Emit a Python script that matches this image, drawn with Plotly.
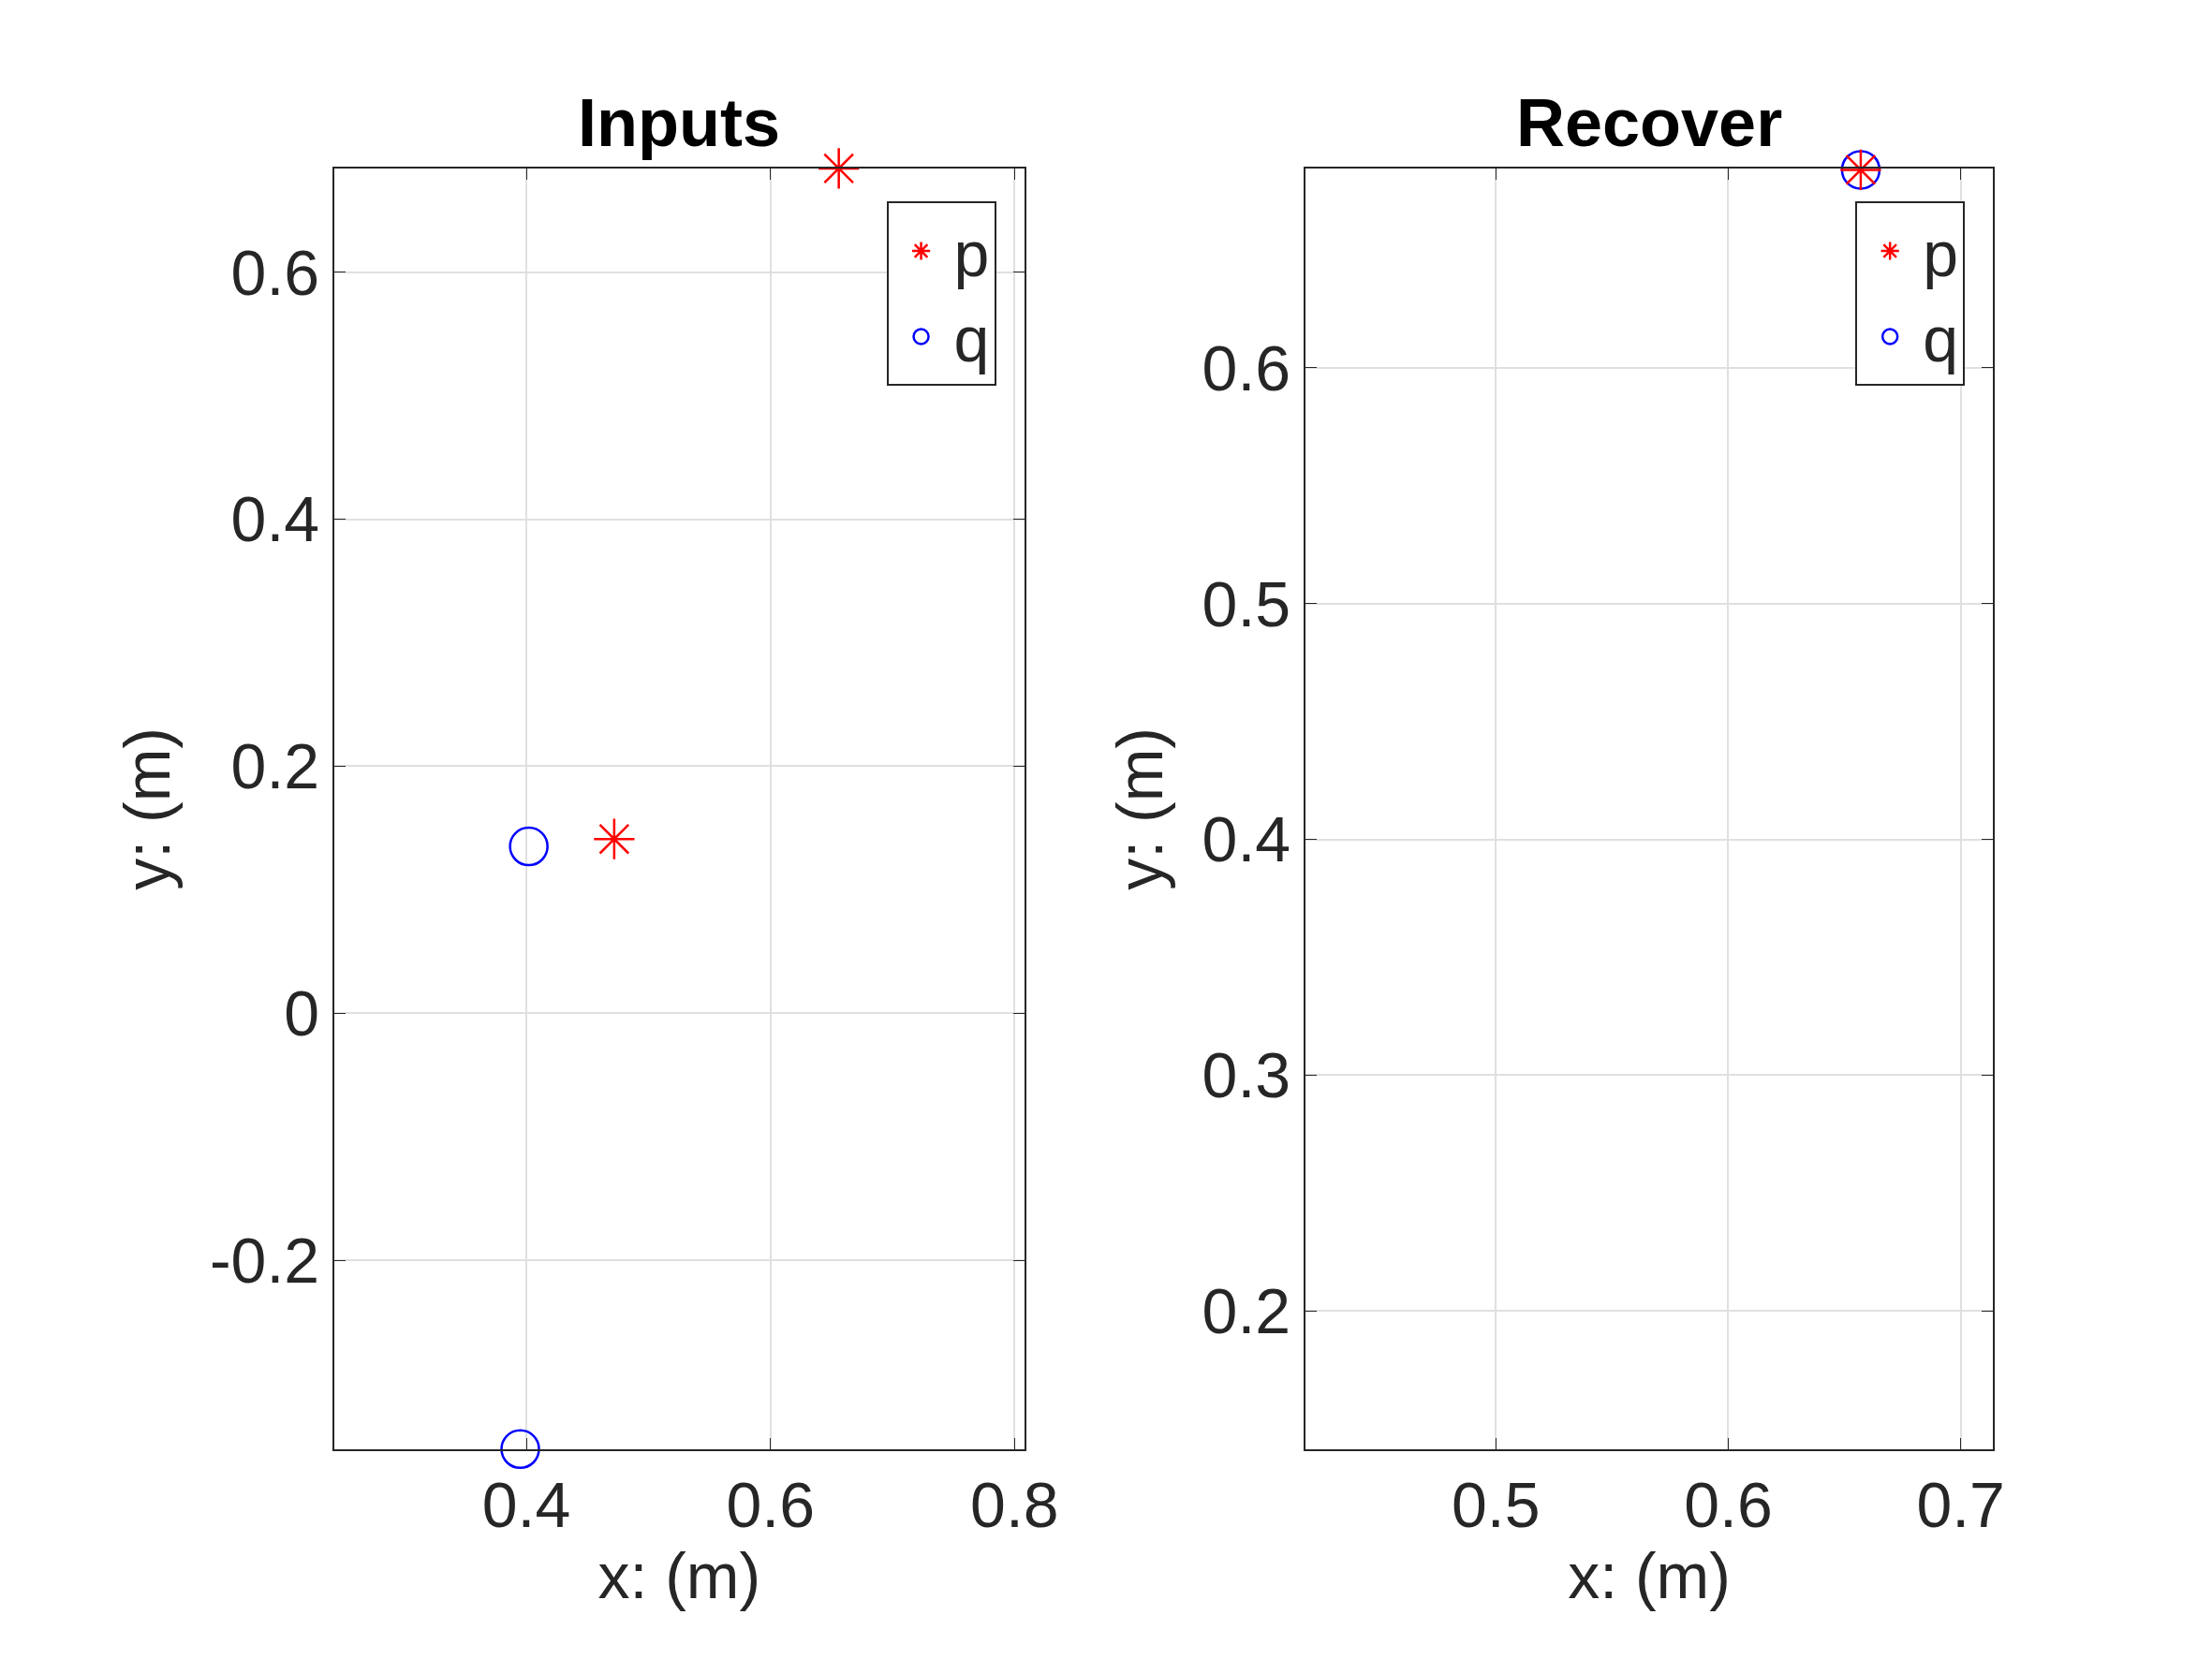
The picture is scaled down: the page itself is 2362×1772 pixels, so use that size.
import plotly.graph_objects as go

# Inputs
p_in_x = [0.472, 0.656]
p_in_y = [0.141, 0.684]
q_in_x = [0.402, 0.395]
q_in_y = [0.135, -0.353]
# Recover
p_rec_x = [0.475, 0.657]
p_rec_y = [0.141, 0.684]
q_rec_x = [0.475, 0.657]
q_rec_y = [0.141, 0.684]

W, H = 2362, 1772
FONT = dict(family="Liberation Sans, Arial", size=68, color="#262626")

def star(x, y, xa, ya, leg):
    return go.Scatter(x=x, y=y, mode="markers", name="p", xaxis=xa, yaxis=ya, legend=leg,
                      cliponaxis=False,
                      marker=dict(symbol="asterisk-open", size=36, color="red",
                                  line=dict(color="red", width=2.5)))

def circ(x, y, xa, ya, leg):
    return go.Scatter(x=x, y=y, mode="markers", name="q", xaxis=xa, yaxis=ya, legend=leg,
                      cliponaxis=False,
                      marker=dict(symbol="circle-open", size=40, color="blue",
                                  line=dict(color="blue", width=2.5)))

fig = go.Figure()
fig.add_trace(star(p_in_x, p_in_y, "x", "y", "legend"))
fig.add_trace(circ(q_in_x, q_in_y, "x", "y", "legend"))
fig.add_trace(circ(q_rec_x, q_rec_y, "x2", "y2", "legend2"))
fig.add_trace(star(p_rec_x, p_rec_y, "x2", "y2", "legend2"))
# keep p first in legend2
fig.data[2].legendrank = 2
fig.data[3].legendrank = 1

ax = dict(showline=True, linecolor="#262626", linewidth=2, mirror="ticks", ticks="inside",
          ticklen=12, tickcolor="#262626", showgrid=True, gridcolor="#e0e0e0", gridwidth=2,
          zeroline=False, tickfont=FONT, title_font=FONT)

fig.update_layout(
    width=W, height=H, paper_bgcolor="white", plot_bgcolor="white",
    margin=dict(l=0, r=0, t=0, b=0), font=FONT,
    xaxis=dict(ax, domain=[0.150, 0.467], range=[0.2425, 0.808], tickvals=[0.4, 0.6, 0.8],
               title=dict(text="x: (m)", standoff=10)),
    yaxis=dict(ax, domain=[0.131, 0.903], range=[-0.353, 0.684],
               tickvals=[-0.2, 0, 0.2, 0.4, 0.6], ticktext=["-0.2", "0", "0.2", "0.4", "0.6"],
               title=dict(text="y: (m)", standoff=20)),
    xaxis2=dict(ax, domain=[0.596, 0.912], range=[0.418, 0.714], tickvals=[0.5, 0.6, 0.7],
                title=dict(text="x: (m)", standoff=10), anchor="y2"),
    yaxis2=dict(ax, domain=[0.131, 0.903], range=[0.1414, 0.6846],
                tickvals=[0.2, 0.3, 0.4, 0.5, 0.6], anchor="x2",
                title=dict(text="y: (m)", standoff=20)),
    legend=dict(x=0.454, y=0.883, xanchor="right", yanchor="top", bordercolor="#262626",
                borderwidth=2, bgcolor="white", font=FONT, itemwidth=60),
    legend2=dict(x=0.899, y=0.883, xanchor="right", yanchor="top", bordercolor="#262626",
                 borderwidth=2, bgcolor="white", font=FONT, itemwidth=60),
    annotations=[
        dict(text="<b>Inputs</b>", x=0.3085, y=0.907, xref="paper", yref="paper",
             xanchor="center", yanchor="bottom", showarrow=False,
             font=dict(family="Liberation Sans, Arial", size=72, color="black")),
        dict(text="<b>Recover</b>", x=0.754, y=0.907, xref="paper", yref="paper",
             xanchor="center", yanchor="bottom", showarrow=False,
             font=dict(family="Liberation Sans, Arial", size=72, color="black")),
    ],
)

fig.write_html("out.html")
